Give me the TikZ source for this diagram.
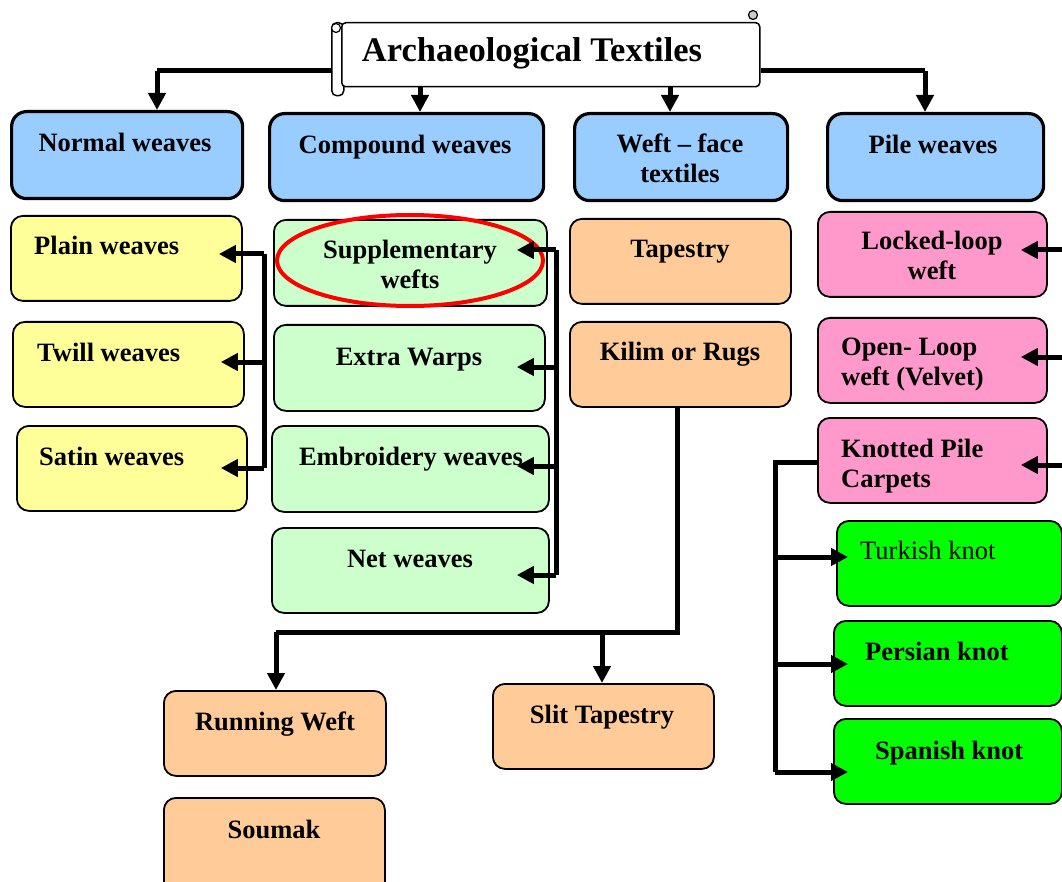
\documentclass[tikz,border=0pt]{standalone}
\usepackage{fontspec}
\setmainfont{Liberation Serif}
\usetikzlibrary{arrows.meta,calc,shapes.geometric}
\definecolor{cblue}{HTML}{99CCFF}
\definecolor{cyellow}{HTML}{FFFF99}
\definecolor{cmint}{HTML}{CCFFCC}
\definecolor{corange}{HTML}{FFCC99}
\definecolor{cpink}{HTML}{FF99CC}
\definecolor{cgreen}{HTML}{00FF00}
\begin{document}
\begin{tikzpicture}[x=1pt,y=-1pt,
  box/.style={draw=black, line width=1.8pt, rounded corners=12pt, anchor=north west, inner sep=0pt},
  hbox/.style={box, line width=3.2pt, rounded corners=15pt, fill=cblue},
  ybox/.style={box, fill=cyellow},
  mbox/.style={box, fill=cmint},
  obox/.style={box, fill=corange},
  pbox/.style={box, fill=cpink},
  gbox/.style={box, fill=cgreen},
  txt/.style={font=\fontsize{26.5}{30}\selectfont\bfseries, inner sep=0pt, anchor=base, align=center},
  ltxt/.style={txt, anchor=base west, align=left},
  conn/.style={line width=5pt},
  arr/.style={conn, -{Triangle[length=17pt,width=17pt]}}]
\useasboundingbox (0,0) rectangle (1062,882);
\clip (0,0) rectangle (1062,882);

% title scroll
\node[draw, line width=1.5pt, fill=white, rounded corners=5pt, anchor=north west, inner sep=0pt, minimum width=12, minimum height=73] (roll) at (331,22) {};
\node[draw, line width=1.5pt, fill=white, rounded corners=4pt, anchor=north west, inner sep=0pt, minimum width=418, minimum height=64] (title) at (341,22) {};
\node[draw, line width=1.2pt, fill=white, circle, inner sep=0pt, minimum size=9] (curlL) at (336,28) {};
\node[draw, line width=1.2pt, fill=gray!40, circle, inner sep=0pt, minimum size=9] (curlR) at (753,15) {};
\node[txt, font=\fontsize{34.5}{38}\selectfont\bfseries] (titletxt) at (532,62) {Archaeological Textiles};

% top row
\node[hbox, minimum width=231, minimum height=87] (normal) at (10,110) {};
\node[hbox, minimum width=274, minimum height=87] (compound) at (268,112) {};
\node[hbox, minimum width=213, minimum height=87] (weftface) at (573,112) {};
\node[hbox, minimum width=216, minimum height=87] (pile) at (826,112) {};
\node[txt] (t-normal) at (125,152) {Normal weaves};
\node[txt] (t-compound) at (405,154) {Compound weaves};
\node[txt] (t-weftface) at (680,183) {Weft – face\\textiles};
\node[txt] (t-pile) at (933,154) {Pile weaves};

% yellow
\node[ybox, minimum width=231, minimum height=85] (plain) at (10,215) {};
\node[ybox, minimum width=231, minimum height=85] (twill) at (12,321) {};
\node[ybox, minimum width=230, minimum height=85] (satin) at (16,425) {};
\node[ltxt] (t-plain) at (34,255) {Plain weaves};
\node[ltxt] (t-twill) at (37,361) {Twill weaves};
\node[ltxt] (t-satin) at (39,465) {Satin weaves};

% mint
\node[mbox, minimum width=273, minimum height=86] (supp) at (273,219) {};
\node[mbox, minimum width=271, minimum height=86] (extra) at (273,324) {};
\node[mbox, minimum width=277, minimum height=86] (embr) at (271,425) {};
\node[mbox, minimum width=277, minimum height=85] (net) at (271,527) {};
\node[txt] (t-supp) at (410,289) {Supplementary\\wefts};
\node[txt] (t-extra) at (409,365) {Extra Warps};
\node[txt] (t-embr) at (411,465) {Embroidery weaves};
\node[txt] (t-net) at (410,567) {Net weaves};
\node[draw=red, line width=4pt, ellipse, inner sep=0pt, minimum width=266, minimum height=91] (ring) at (410,260.5) {};

% orange
\node[obox, minimum width=221, minimum height=85] (tap) at (569,218) {};
\node[obox, minimum width=221, minimum height=85] (kilim) at (569,321) {};
\node[obox, minimum width=222, minimum height=85] (running) at (163,690) {};
\node[obox, minimum width=221, minimum height=100] (soumak) at (163,797) {};
\node[obox, minimum width=221, minimum height=85] (slit) at (492,683) {};
\node[txt] (t-tap) at (680,258) {Tapestry};
\node[txt] (t-kilim) at (680,360) {Kilim or Rugs};
\node[txt] (t-running) at (275,730) {Running Weft};
\node[txt] (t-soumak) at (274,838) {Soumak};
\node[txt] (t-slit) at (602,723) {Slit Tapestry};

% pink
\node[pbox, minimum width=229, minimum height=85] (locked) at (817,211) {};
\node[pbox, minimum width=229, minimum height=85] (open) at (817,317) {};
\node[pbox, minimum width=229, minimum height=85] (knotted) at (817,417) {};
\node[txt] (t-locked) at (932,280) {Locked-loop\\weft};
\node[ltxt] (t-open) at (841,385) {Open- Loop\\weft (Velvet)};
\node[ltxt] (t-knotted) at (841,487) {Knotted Pile\\Carpets};

% green
\node[gbox, minimum width=225, minimum height=85] (turkish) at (836,520) {};
\node[gbox, minimum width=228, minimum height=85] (persian) at (833,620) {};
\node[gbox, minimum width=228, minimum height=85] (spanish) at (833,718) {};
\node[ltxt, font=\fontsize{26.5}{30}\selectfont] (t-turkish) at (860,559) {Turkish knot};
\node[ltxt] (t-persian) at (865,660) {Persian knot};
\node[ltxt] (t-spanish) at (875,759) {Spanish knot};

% connectors from title
\coordinate (tl) at (157,71);
\coordinate (tr) at (925,71);
\draw[conn] (roll.west |- tl) -- (tl);
\draw[arr] (tl) -- (normal.north -| tl);
\draw[conn] (title.east |- tr) -- (tr);
\draw[arr] (tr) -- (pile.north -| tr);
\draw[arr] (title.south -| 420,0) -- (compound.north -| 420,0);
\draw[arr] (title.south -| 670,0) -- (weftface.north -| 670,0);

% yellow bracket
\coordinate (yb1) at (264,254);
\coordinate (yb2) at (264,362);
\coordinate (yb3) at (264,468);
\draw[conn] (yb1) -- (yb3);
\draw[arr] (yb1) -- ($(plain.east |- yb1)+(-24,0)$);
\draw[arr] (yb2) -- ($(twill.east |- yb2)+(-24,0)$);
\draw[arr] (yb3) -- ($(satin.east |- yb3)+(-27,0)$);

% mint bracket
\coordinate (mb1) at (556,250);
\coordinate (mb2) at (556,367);
\coordinate (mb3) at (556,466);
\coordinate (mb4) at (556,575);
\draw[conn] (mb1) -- (mb4);
\draw[arr] (mb1) -- ($(supp.east |- mb1)+(-31,0)$);
\draw[arr] (mb2) -- ($(extra.east |- mb2)+(-29,0)$);
\draw[arr] (mb3) -- ($(embr.east |- mb3)+(-33,0)$);
\draw[arr] (mb4) -- ($(net.east |- mb4)+(-33,0)$);

% kilim tree
\coordinate (kc) at (677,632);
\coordinate (kr) at (276,632);
\coordinate (ks) at (602,632);
\draw[conn] (kilim.south -| kc) -- (kc) -- (kr);
\draw[arr] (kr) -- (running.north -| kr);
\draw[arr] (ks) -- (slit.north -| ks);

% pile arrows from right edge
\coordinate (pr1) at (1062,250);
\coordinate (pr2) at (1062,357);
\coordinate (pr3) at (1062,465);
\draw[arr] (pr1) -- ($(locked.east |- pr1)+(-27,0)$);
\draw[arr] (pr2) -- ($(open.east |- pr2)+(-27,0)$);
\draw[arr] (pr3) -- ($(knotted.east |- pr3)+(-27,0)$);

% knotted tree
\coordinate (kt1) at (775,462);
\coordinate (kt2) at (775,772);
\draw[conn] (knotted.west |- kt1) -- (kt1) -- (kt2);
\draw[arr] (775,557) -- ($(turkish.west |- 0,557)+(12,0)$);
\draw[arr] (775,664) -- ($(persian.west |- 0,664)+(15,0)$);
\draw[arr] (kt2) -- ($(spanish.west |- kt2)+(15,0)$);
\end{tikzpicture}
\end{document}
